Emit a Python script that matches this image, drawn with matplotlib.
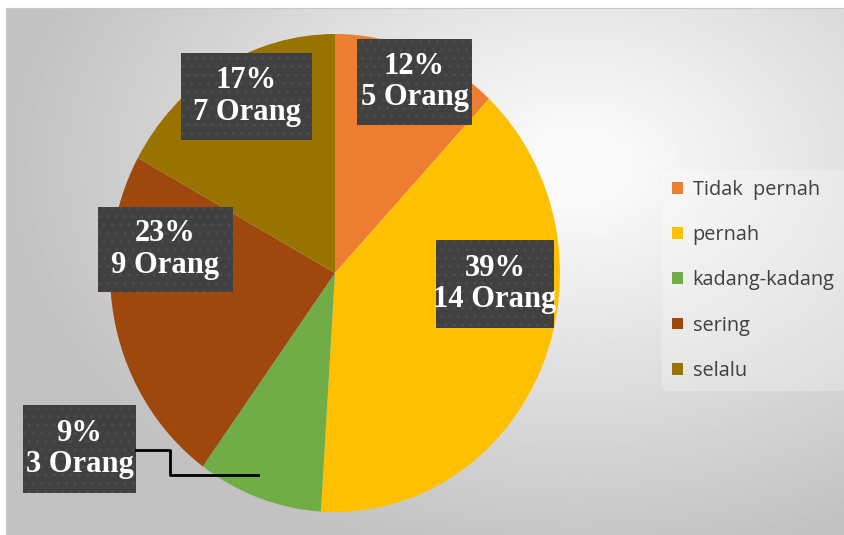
import numpy as np
import matplotlib.pyplot as plt
from matplotlib.patches import Rectangle

# data
kategori = ['Tidak  pernah', 'pernah', 'kadang-kadang', 'sering', 'selalu']
persen = [12, 39, 9, 23, 17]
orang = [5, 14, 3, 9, 7]
warna = ['#ED7D31', '#FFC000', '#70AD47', '#9E480E', '#997300']

W, H = 845, 535
fig = plt.figure(figsize=(W / 100, H / 100), dpi=100)
fig.patch.set_facecolor('white')

def px(x, y, w, h):
    # pixel box (top-left origin) -> figure fraction
    return [x / W, 1 - (y + h) / H, w / W, h / H]

# background panel with radial shading
bg = fig.add_axes(px(6, 8, 839, 527))
yy, xx = np.mgrid[0:1:300j, 0:1:480j]
d = np.sqrt(((xx - 0.68) / 0.85) ** 2 + ((yy - 0.3) / 0.95) ** 2)
shade = np.clip(1.0 - 0.3 * d, 0.76, 0.98)
bg.imshow(shade, cmap='gray', vmin=0, vmax=1, aspect='auto', extent=[0, 1, 1, 0])
bg.set_xticks([])
bg.set_yticks([])
for s in bg.spines.values():
    s.set_color('#c8c8c8')

# pie (slightly stretched vertically like the original)
cx, cy, rx, ry = 335, 273, 225, 239
ax = fig.add_axes(px(cx - rx, cy - ry, 2 * rx, 2 * ry))
ax.patch.set_alpha(0)
wedges, _ = ax.pie(persen, colors=warna, startangle=90, counterclock=False, radius=1)
ax.set_xlim(-1, 1)
ax.set_ylim(-1, 1)
ax.set_aspect('auto')

# label boxes (pixel positions)
kotak = [(357, 39, 115, 86), (436, 240, 118, 88), (23, 405, 113, 88),
         (98, 207, 135, 85), (181, 53, 131, 87)]
for i, (x, y, w, h) in enumerate(kotak):
    fig.patches.append(Rectangle((x / W, 1 - (y + h) / H), w / W, h / H,
                                 transform=fig.transFigure, facecolor='#404040',
                                 edgecolor='#4c4c4c', hatch='..', lw=0, zorder=5))
    fig.text((x + w / 2) / W, 1 - (y + h / 2) / H, f"{persen[i]}%\n{orang[i]} Orang",
             ha='center', va='center', color='white', fontsize=22,
             family='Liberation Serif', weight='bold', linespacing=1.1, zorder=6)

# leader line for kadang-kadang
lx = [136, 170, 170, 258]
ly = [450, 450, 475, 475]
fig.add_artist(plt.Line2D([v / W for v in lx], [1 - v / H for v in ly],
                          color='black', lw=2, zorder=7))

leg = fig.legend(wedges, kategori, loc='upper left', bbox_to_anchor=(652 / W, 1 - 160 / H),
                 frameon=True, labelspacing=1.27, handlelength=0.55,
                 handleheight=0.55, handletextpad=0.5, borderpad=0.5,
                 prop={'family': 'Open Sans', 'size': 14.3})
leg.get_frame().set_facecolor('white')
leg.get_frame().set_alpha(0.25)
leg.get_frame().set_edgecolor('none')
for t in leg.get_texts():
    t.set_color('#404040')

fig.savefig('out.png', dpi=100)
